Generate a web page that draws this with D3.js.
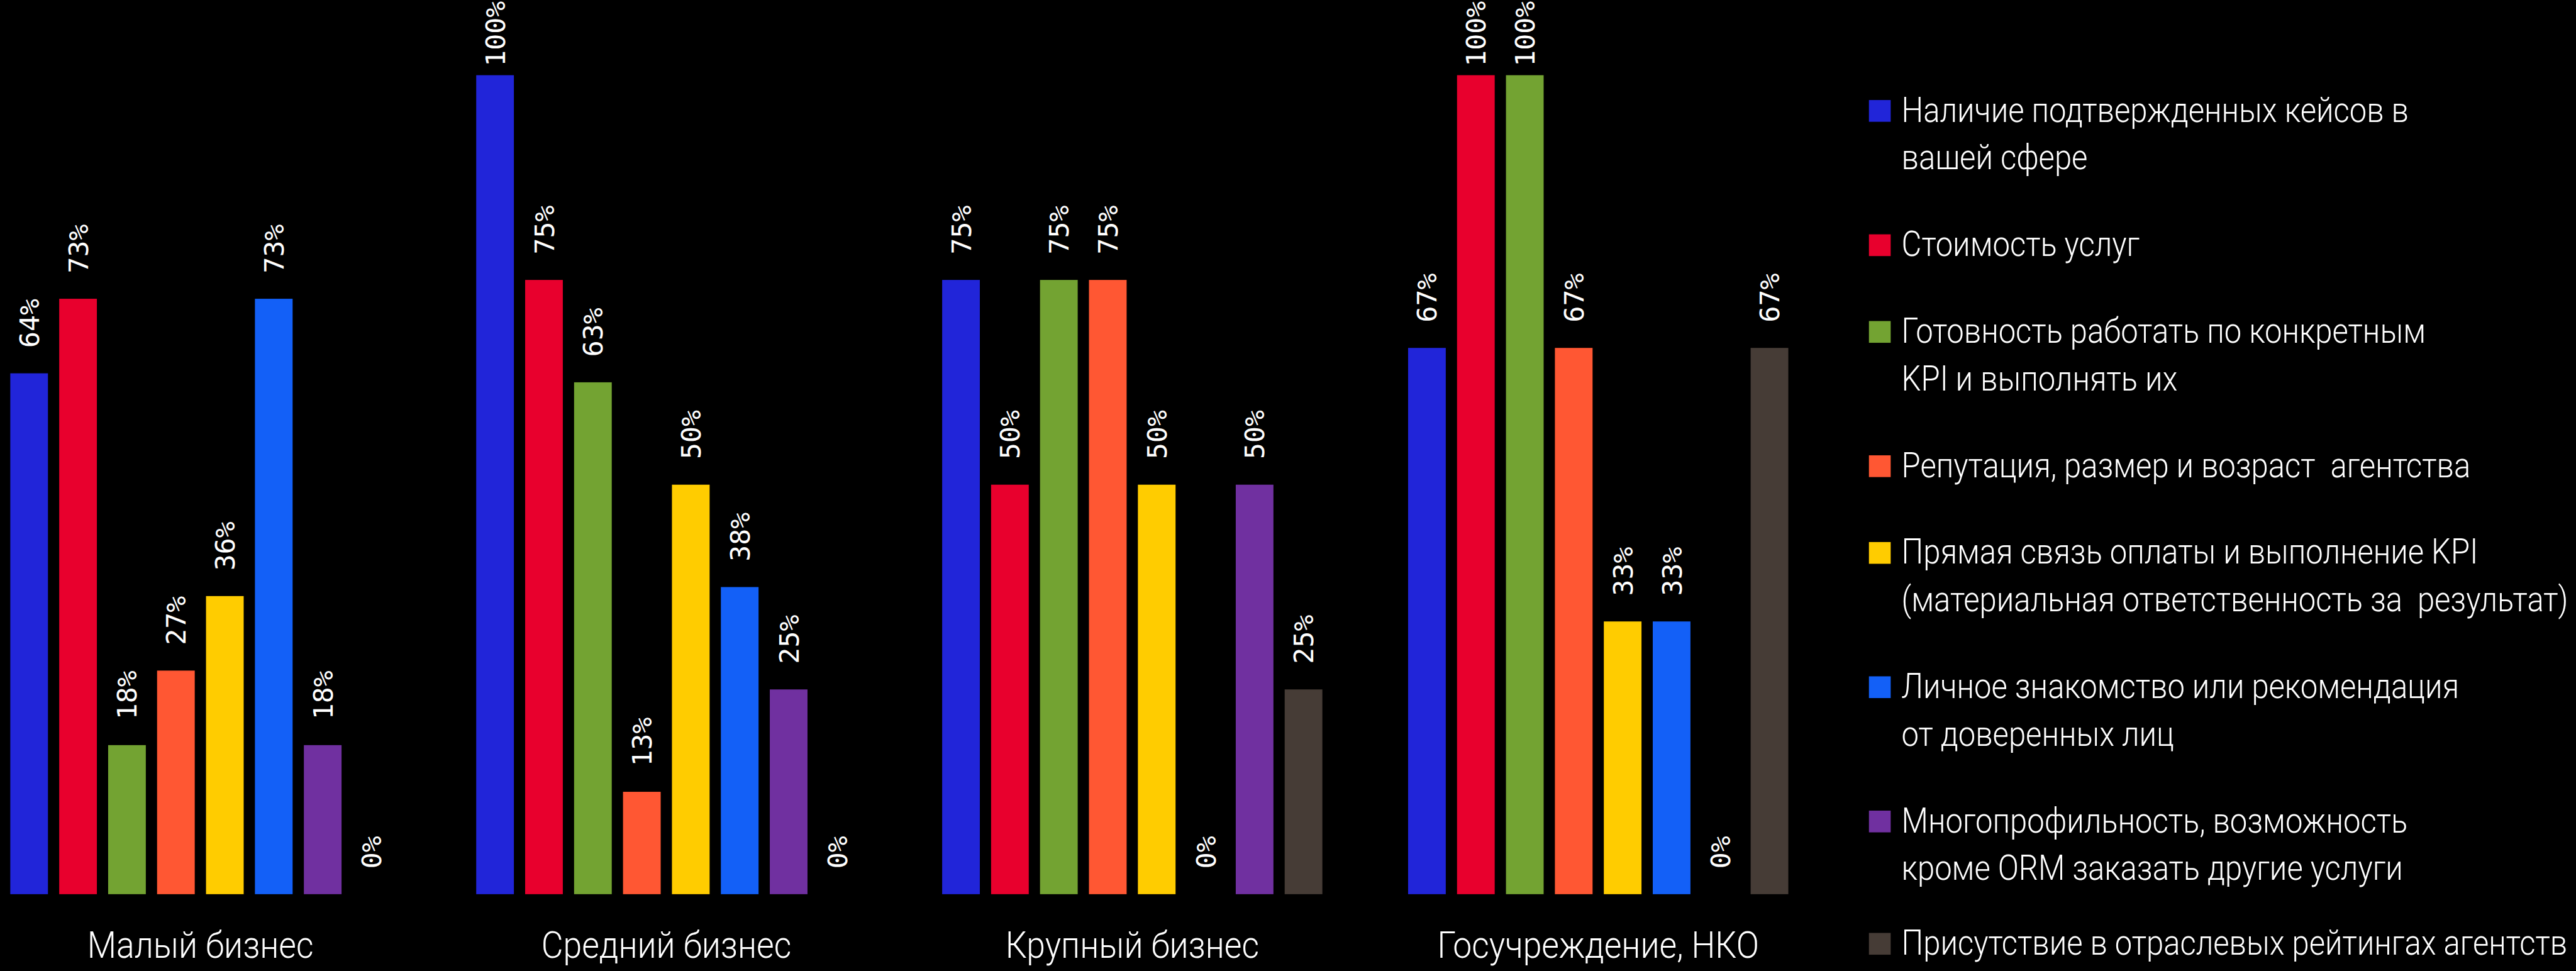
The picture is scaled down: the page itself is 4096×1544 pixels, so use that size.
<!DOCTYPE html>
<html>
<head>
<meta charset="utf-8">
<script src="https://cdn.jsdelivr.net/npm/d3@7"></script>
<style>
  html, body { margin: 0; padding: 0; background: #000; overflow: hidden; }
  svg { display: block; }
</style>
</head>
<body>
<svg id="chart"></svg>
<script>
// ---------- DATA ----------
const groups = ["Малый бизнес", "Средний бизнес", "Крупный бизнес", "Госучреждение, НКО"];
const seriesNames = [
  ["Наличие подтвержденных кейсов в", "вашей сфере"],
  ["Стоимость услуг"],
  ["Готовность работать по конкретным", "KPI и выполнять их"],
  ["Репутация, размер и возраст  агентства"],
  ["Прямая связь оплаты и выполнение KPI", "(материальная ответственность за  результат)"],
  ["Личное знакомство или рекомендация", "от доверенных лиц"],
  ["Многопрофильность, возможность", "кроме ORM заказать другие услуги"],
  ["Присутствие в отраслевых рейтингах агентств"]
];
const seriesColors = ["#2125D9", "#E8002D", "#73A332", "#FF5733", "#FFCC00", "#1360F7", "#7030A0", "#463C36"];
const smallBusiness  = [63.6, 72.7, 18.2, 27.3, 36.4, 72.7, 18.2, 0];
const mediumBusiness = [100, 75, 62.5, 12.5, 50, 37.5, 25, 0];
const largeBusiness  = [75, 50, 75, 75, 50, 0, 50, 25];
const govNko         = [66.7, 100, 100, 66.7, 33.3, 33.3, 0, 66.7];
const groupValues = [smallBusiness, mediumBusiness, largeBusiness, govNko];

// ---------- LAYOUT (reference pixel space) ----------
const W = 4737, H = 1786;
const svg = d3.select("#chart")
  .attr("width", 4096).attr("height", 1544)
  .attr("viewBox", `0 0 ${W} ${H}`);
svg.append("rect").attr("width", W).attr("height", H).attr("fill", "#000");

const plotLeft = 18.4, plotRight = 3288.7, baseY = 1644.7, topY = 138.3;
const x0 = d3.scaleBand().domain(groups).range([plotLeft, plotRight]).paddingInner(0.184).paddingOuter(0);
const x1 = d3.scaleBand().domain(d3.range(seriesNames.length)).range([0, x0.bandwidth()]).paddingInner(0.23).paddingOuter(0);
const y = d3.scaleLinear().domain([0, 100]).range([baseY, topY]);

const rows = [];
groups.forEach((g, gi) => groupValues[gi].forEach((v, si) => rows.push({ g, si, v })));

const valueFont = "'DejaVu Sans Mono', monospace";
const valueSize = 50;
const labelFont = "Roboto, 'Open Sans', sans-serif";

const gBars = svg.append("g");
gBars.selectAll("rect").data(rows.filter(d => d.v > 0)).join("rect")
  .attr("x", d => x0(d.g) + x1(d.si))
  .attr("width", x1.bandwidth())
  .attr("y", d => y(d.v))
  .attr("height", d => y(0) - y(d.v))
  .attr("fill", d => seriesColors[d.si]);

// value labels (rotated)
const gLabels = svg.append("g");
gLabels.selectAll("text").data(rows).join("text")
  .attr("font-family", valueFont)
  .attr("font-size", valueSize)
  .attr("fill", "#fff")
  .attr("dy", "0.36em")
  .text(d => Math.round(d.v) + "%")
  .each(function (d) {
    const len = this.getComputedTextLength();
    const cx = x0(d.g) + x1(d.si) + x1.bandwidth() / 2;
    const yy = Math.max(y(d.v) - 47, len + 2);
    d3.select(this).attr("transform", `translate(${cx},${yy}) rotate(-90)`);
  });

// category labels
svg.append("g").selectAll("text").data(groups).join("text")
  .attr("transform", d => `translate(${x0(d) + x0.bandwidth() / 2},1762) scale(0.91,1)`)
  .attr("text-anchor", "middle")
  .attr("font-family", labelFont)
  .attr("font-weight", 300)
  .attr("font-size", 68)
  .attr("fill", "#fff")
  .text(d => d);

// legend
const legX = 3437, sw = 40, textX = 3497, lineH = 87.5, itemGap = 72, firstBase = 224, maxBase = 1756;
let base = firstBase;
const legend = svg.append("g");
seriesNames.forEach((lines, i) => {
  const b = Math.min(base, maxBase);
  const item = legend.append("g");
  item.append("rect").attr("x", legX).attr("y", b - sw).attr("width", sw).attr("height", sw).attr("fill", seriesColors[i]);
  const t = item.append("text")
    .attr("font-family", labelFont).attr("font-weight", 300)
    .attr("font-size", 64).attr("fill", "#fff")
    .attr("transform", `translate(${textX},${b}) scale(0.885,1)`)
    .style("white-space", "pre");
  lines.forEach((ln, li) => t.append("tspan").attr("x", 0).attr("y", li * lineH).text(ln));
  base += lines.length * lineH + itemGap;
});
</script>
</body>
</html>
